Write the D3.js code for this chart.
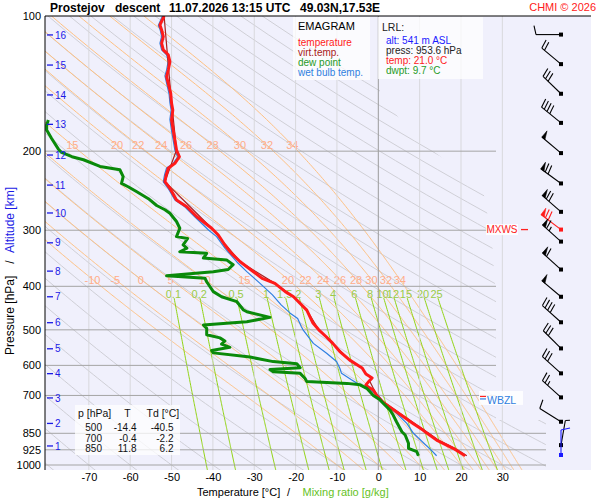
<!DOCTYPE html>
<html lang="en">
<head>
<meta charset="UTF-8">
<title>Emagram Prostejov</title>
<script src="https://d3js.org/d3.v7.min.js"></script>
<style>
  body { margin: 0; background: #fff; }
  svg text { font-family: "Liberation Sans", Arial, sans-serif; }
</style>
</head>
<body>
<svg id="chart" width="600" height="500"></svg>
<script>
// ---- sounding data ----
const tempP = [100, 104.7, 107.4, 111.2, 115, 119, 122, 126.4, 131.9, 136.5, 141.2, 148.7, 156.5, 162, 170.4, 179.5, 188.9, 198.8, 205.8, 212.9, 218.4, 226.1, 233.9, 241.9, 256.9, 265.9, 279.9, 297, 307.4, 323.6, 337.8, 352.6, 371.1, 384, 394, 411, 422, 452, 483, 500, 518, 536, 559, 584, 604, 608, 627, 640, 650, 663, 670, 681, 700, 726, 767, 808, 836, 850, 880, 918, 953.6];
const tempT = [-51.8, -52.8, -52.4, -52.0, -52.4, -52.0, -50.8, -50.4, -50.8, -51.2, -50.8, -50.2, -50.0, -49.7, -50.0, -49.6, -49.2, -48.8, -48.1, -49.2, -50.8, -51.3, -51.6, -50.4, -48.8, -46.3, -43.9, -40.3, -38.7, -37.1, -35.5, -33.4, -30.2, -28.1, -25.0, -22.5, -20.5, -17.3, -15.8, -14.4, -12.6, -11.0, -9.3, -6.9, -4.4, -3.9, -3.0, -1.5, -2.2, -3.0, -2.5, -1.2, -0.4, 1.2, 4.9, 8.4, 10.8, 11.8, 14.1, 18.1, 21.0];

const virtP = [100, 148.7, 198.8, 233.9, 297, 352.6, 394, 422, 452, 500, 536, 584, 604, 627, 640, 650, 681, 700, 726, 767, 808, 850, 880, 918, 953.6];
const virtT = [-51.8, -50.2, -48.8, -51.6, -40.3, -33.4, -25.0, -20.5, -17.3, -14.4, -11.0, -6.9, -4.3, -2.9, -1.4, -2.1, -1.0, -0.2, 1.5, 5.2, 8.8, 12.2, 14.5, 18.5, 21.4];

const dewP = [170.4, 174.9, 179.5, 187.4, 197.7, 201.3, 205.8, 209, 216.3, 220, 228, 235.9, 240, 246.3, 255.2, 264.3, 270.1, 275, 286.9, 297, 310, 313, 323.5, 329, 335, 337.8, 346, 349.3, 358, 367, 371, 379, 383.9, 390.7, 400.8, 411, 421.9, 432.8, 451.7, 455.6, 469, 479.6, 483.6, 487.7, 496.2, 512.6, 521, 529.5, 538, 546.9, 555.6, 562.7, 575, 588.5, 595, 607, 613, 620, 625, 642, 652, 658, 663, 674.9, 700, 716, 735, 754, 774, 801, 843, 857.5, 894.6, 918, 934, 953.6];
const dewT = [-79.8, -80.2, -80.2, -79.0, -77.4, -76.6, -74.1, -71.3, -67.3, -62.5, -61.7, -62.1, -60.5, -58.4, -55.6, -53.6, -51.6, -50.4, -48.8, -48.0, -48.8, -46.1, -47.2, -46.3, -48.0, -41.5, -42.3, -36.7, -35.1, -36.3, -39.9, -51.2, -41.9, -41.5, -40.7, -39.9, -37.9, -34.2, -32.6, -31.8, -26.2, -31.8, -36.7, -42.3, -41.5, -41.5, -38.3, -37.1, -37.9, -35.9, -40.3, -39.9, -31.0, -25.4, -19.7, -18.9, -26.2, -25.4, -18.9, -17.7, -17.3, -7.6, -4.4, -2.8, -1.2, 0.4, 1.6, 2.8, 3.6, 4.4, 5.7, 6.5, 7.3, 7.3, 9.3, 9.7];

const wetP = [100, 105, 107, 111, 115, 119, 122, 126, 132, 136, 141, 149, 156, 162, 170, 180, 189, 199, 206, 213, 218, 226, 234, 242, 257, 266, 280, 300, 310, 329, 353, 371, 394, 418, 440, 459, 472, 492, 500, 536, 564, 588, 609, 625, 646, 669, 681, 700, 723, 767, 808, 850, 929, 953.6];
const wetT = [-52.2, -53.2, -52.8, -52.4, -52.8, -52.4, -51.2, -50.8, -51.2, -51.6, -51.2, -50.6, -50.4, -50.1, -50.4, -50.0, -49.6, -49.2, -48.5, -49.6, -51.2, -51.7, -52.0, -50.8, -49.2, -46.8, -44.4, -41.0, -39.1, -37.1, -34.2, -31.8, -28.6, -25.6, -23.5, -21.3, -19.5, -18.6, -18.2, -15.7, -12.5, -10.1, -9.3, -8.9, -6.5, -3.8, -2.0, 0.0, 1.2, 4.4, 6.9, 8.5, 12.9, 14.1];

const windP   = [110, 128, 149, 173, 202, 236, 273, 299, 318, 367, 422, 481, 550, 625, 707, 801, 903, 950];
const windDir = [270, 310, 314, 309, 310, 306, 311, 307, 312, 312, 310, 312, 315, 312, 312, 302, 10, 0];
const windSpd = [10, 20, 30, 40, 50, 70, 70, 70, 65, 60, 50, 40, 30, 30, 25, 10, 5, 10];
const maxWindP = 299;

const pressTicks = [100, 200, 300, 400, 500, 600, 700, 850, 925, 1000];
const tempTicks = [-70, -60, -50, -40, -30, -20, -10, 0, 10, 20, 30];
const altKm = [1, 2, 3, 4, 5, 6, 7, 8, 9, 10, 11, 12, 13, 14, 15, 16];
const altP  = [907, 808, 709, 626, 551, 482, 422, 370, 320, 274.6, 238, 204, 174.3, 149.9, 128.6, 110.2];

const thetaWLow  = [-10, -5, 0, 5, 10, 15, 20, 22, 24, 26, 28, 30, 32, 34];
const thetaWHigh = [15, 20, 22, 24, 26, 28, 30, 32, 34];
const mixRatios  = [0.1, 0.2, 0.5, 1, 1.5, 2, 3, 4, 6, 8, 10, 12, 15, 20, 25];

const tableP  = ['500', '700', '850'];
const tableT  = ['-14.4', '-0.4', '11.8'];
const tableTd = ['-40.5', '-2.2', '6.2'];

const legendNames  = ['temperature', 'virt.temp.', 'dew point', 'wet bulb temp.'];
const legendColors = ['#ff1a1a', '#a82020', '#1f9a1f', '#2f7fe0'];
const lrlText   = ['alt: 541 m ASL', 'press: 953.6 hPa', 'temp: 21.0 \u00B0C', 'dwpt: 9.7 \u00B0C'];
const lrlColors = ['#1a1aff', '#222', '#ff1a1a', '#1f9a1f'];
const wbzlP = 700;

// ---- layout ----
const svg = d3.select('#chart');
const plotL = 45, plotR = 546, plotT = 16, plotB = 470, bgR = 591;
const x = d3.scaleLinear().domain([-80, 40]).range([47.5, 543.7]);
const y = d3.scaleLog().domain([100, 1000]).range([16, 465]);

svg.append('rect').attr('x', plotL).attr('y', plotT)
  .attr('width', bgR - plotL).attr('height', plotB - plotT).attr('fill', '#f0f0fc');

const defs = svg.append('defs');
defs.append('clipPath').attr('id', 'plotClip').append('rect')
  .attr('x', plotL).attr('y', plotT).attr('width', plotR - plotL).attr('height', plotB - plotT);
defs.append('clipPath').attr('id', 'dryClip').append('polygon')
  .attr('points', [[45,16],[380,16],[380,95],[413,135],[483,190],[492,240],[496,300],[496,420],[546,420],[546,470],[45,470]].join(' '));

const line = d3.line().x(d => x(d[1])).y(d => y(d[0]));

// dry adiabats
const dryG = svg.append('g').attr('clip-path', 'url(#dryClip)');
d3.range(-80, 201, 10).forEach(th => {
  const pts = d3.range(1040, 99, -10).map(p => [p, (th + 273.15) * Math.pow(p / 1000, 0.2857) - 273.15]);
  dryG.append('path').attr('d', line(pts)).attr('fill', 'none').attr('stroke', '#cfcfd6').attr('stroke-width', 1);
});

// pseudo-adiabats
function pseudoAdiabat(tw) {
  const es = t => 6.112 * Math.exp(17.67 * t / (t + 243.5));
  const rate = (T, p) => {
    const e = es(T - 273.15), rs = 0.622 * e / (p - e);
    return (287.04 * T + 2.501e6 * rs) / (p * (1005.7 + 2.501e6 * 2.501e6 * rs * 0.622 / (287.04 * T * T)));
  };
  let T = tw + 273.15;
  const down = [];
  for (let p = 1000; p < 1040; p += 2) { const k1 = rate(T, p); T += 2 * rate(T + k1, p + 1); down.push([p + 2, T]); }
  T = tw + 273.15;
  const up = [[1000, T]];
  for (let p = 1000; p > 100; p -= 2) { const k1 = rate(T, p); T -= 2 * rate(T - k1, p - 1); up.push([p - 2, T]); }
  return down.reverse().concat(up).map(d => [d[0], d[1] - 273.15]);
}
const moistG = svg.append('g').attr('clip-path', 'url(#plotClip)');
const moistCurves = {};
thetaWLow.forEach(tw => {
  moistCurves[tw] = pseudoAdiabat(tw);
  moistG.append('path').attr('d', line(moistCurves[tw])).attr('fill', 'none')
    .attr('stroke', '#ffc182').attr('stroke-width', 1);
});
function tAt(curve, p) {
  const i = curve.findIndex(d => d[0] <= p);
  return curve[Math.max(i, 0)][1];
}
const moistLab = svg.append('g').attr('font-size', 11).attr('fill', '#ffad8a').attr('text-anchor', 'middle');
thetaWLow.forEach(tw => moistLab.append('text').attr('x', x(tAt(moistCurves[tw], 387))).attr('y', y(387) + 4).text(String(tw)));
thetaWHigh.forEach(tw => moistLab.append('text').attr('x', x(tAt(moistCurves[tw], 194))).attr('y', y(194) + 4).text(String(tw)));

// mixing ratio lines
const dewOf = (r, p) => { const e = r * p / (622 + r); const l = Math.log(e / 6.112); return 243.5 * l / (17.67 - l); };
const mixG = svg.append('g').attr('clip-path', 'url(#plotClip)');
mixRatios.forEach(r => {
  const pts = d3.range(425, 1041, 5).map(p => [p, dewOf(r, p)]);
  mixG.append('path').attr('d', line(pts)).attr('fill', 'none').attr('stroke', '#92d414').attr('stroke-width', 1);
});
svg.append('g').attr('font-size', 11).attr('fill', '#9acb48').attr('text-anchor', 'middle')
  .selectAll('text').data(mixRatios).join('text')
  .attr('x', r => x(dewOf(r, 416))).attr('y', y(416) + 4).text(r => r);

// isotherms and isobars
svg.append('g').selectAll('line').data(tempTicks).join('line')
  .attr('x1', d => x(d)).attr('x2', d => x(d)).attr('y1', plotT).attr('y2', plotB)
  .attr('stroke', d => d === 0 ? '#9a9a9a' : '#d8d8dc').attr('stroke-width', 1);
svg.append('g').selectAll('line').data(pressTicks.filter(p => p > 100)).join('line')
  .attr('x1', plotL).attr('x2', p => p > 700 ? plotR : 496).attr('y1', p => y(p)).attr('y2', p => y(p))
  .attr('stroke', '#a4a4a4').attr('stroke-width', 1);

// profiles
const prof = svg.append('g').attr('clip-path', 'url(#plotClip)').attr('fill', 'none').attr('stroke-linejoin', 'round');
prof.append('path').attr('d', line(d3.zip(wetP, wetT))).attr('stroke', '#2f7fe0').attr('stroke-width', 1.2);
prof.append('path').attr('d', line(d3.zip(virtP, virtT))).attr('stroke', '#a82020').attr('stroke-width', 1.2);
prof.append('path').attr('d', line(d3.zip(tempP, tempT))).attr('stroke', '#ff1a1a').attr('stroke-width', 3);
prof.append('path').attr('d', line(d3.zip(dewP, dewT))).attr('stroke', '#0a8a0a').attr('stroke-width', 3);

// axes
svg.append('line').attr('x1', plotL).attr('x2', plotL).attr('y1', plotT).attr('y2', plotB).attr('stroke', '#000');
svg.append('line').attr('x1', plotL).attr('x2', bgR).attr('y1', plotT).attr('y2', plotT).attr('stroke', '#000');

const yAxis = svg.append('g').attr('transform', `translate(${plotL - 4},0)`)
  .call(d3.axisLeft(y).tickValues(pressTicks).tickFormat(d => String(d)).tickSize(0).tickPadding(0));
yAxis.select('.domain').remove();
yAxis.selectAll('text').attr('font-size', 11).attr('fill', '#000').attr('font-family', '"Liberation Sans", Arial, sans-serif');

const xAxis = svg.append('g').attr('transform', `translate(0,${plotB})`)
  .call(d3.axisBottom(x).tickValues(tempTicks).tickFormat(d => String(d)).tickSize(0).tickPadding(3));
xAxis.select('.domain').remove();
xAxis.selectAll('text').attr('font-size', 11).attr('fill', '#000').attr('font-family', '"Liberation Sans", Arial, sans-serif');

// altitude ticks
const altG = svg.append('g').attr('fill', '#1a1ae6').attr('font-size', 10);
altKm.forEach((km, i) => {
  const yy = y(altP[i]);
  altG.append('line').attr('x1', 47).attr('x2', 53).attr('y1', yy).attr('y2', yy).attr('stroke', '#1a1ae6').attr('stroke-width', 1.3);
  altG.append('text').attr('x', 55).attr('y', yy + 3.6).text(km);
});

// axis titles
svg.append('text').attr('x', 197).attr('y', 496).attr('font-size', 11).text('Temperature [\u00B0C]');
svg.append('text').attr('x', 287).attr('y', 496).attr('font-size', 11).text('/');
svg.append('text').attr('x', 302.5).attr('y', 496).attr('font-size', 11).attr('fill', '#66c21e').text('Mixing ratio [g/kg]');
svg.append('text').attr('transform', 'translate(13.5,355) rotate(-90)').attr('font-size', 12).text('Pressure [hPa]');
svg.append('text').attr('transform', 'translate(13.5,262) rotate(-90)').attr('font-size', 12).attr('text-anchor', 'middle').text('/');
svg.append('text').attr('transform', 'translate(13.5,253) rotate(-90)').attr('font-size', 12).attr('fill', '#1a1ae6').text('Altitude [km]');

// title
const title = svg.append('g').attr('font-size', 12).attr('font-weight', 'bold');
title.append('text').attr('x', 50).attr('y', 12).text('Prostejov');
title.append('text').attr('x', 115).attr('y', 12).text('descent');
title.append('text').attr('x', 169).attr('y', 12).text('11.07.2026 13:15 UTC');
title.append('text').attr('x', 300).attr('y', 12).text('49.03N,17.53E');
svg.append('text').attr('x', 596).attr('y', 11).attr('text-anchor', 'end').attr('font-size', 11)
  .attr('fill', '#ff2020').text('CHMI \u00A9 2026');

// legend box
svg.append('rect').attr('x', 293).attr('y', 17).attr('width', 77).attr('height', 63).attr('fill', '#fff').attr('opacity', 0.75);
svg.append('text').attr('x', 298).attr('y', 29.5).attr('font-size', 11).text('EMAGRAM');
svg.append('g').attr('font-size', 10).selectAll('text').data(legendNames).join('text')
  .attr('x', 298).attr('y', (d, i) => 46 + i * 10).attr('fill', (d, i) => legendColors[i]).text(d => d);

// LRL box
svg.append('rect').attr('x', 378).attr('y', 17).attr('width', 105).attr('height', 62).attr('fill', '#fff').attr('opacity', 0.75);
svg.append('text').attr('x', 382).attr('y', 30.5).attr('font-size', 10.5).attr('fill', '#222').text('LRL:');
svg.append('g').attr('font-size', 10).selectAll('text').data(lrlText).join('text')
  .attr('x', 386).attr('y', (d, i) => 44 + i * 10).attr('fill', (d, i) => lrlColors[i]).text(d => d);

// table
svg.append('rect').attr('x', 75).attr('y', 405).attr('width', 105).attr('height', 50).attr('fill', '#fff').attr('opacity', 0.75);
const tab = svg.append('g').attr('font-size', 10).attr('fill', '#111');
tab.append('text').attr('x', 78).attr('y', 417).attr('font-size', 10.5).text('p [hPa]');
tab.append('text').attr('x', 127.5).attr('y', 417).attr('font-size', 10.5).attr('text-anchor', 'middle').text('T');
tab.append('text').attr('x', 146.5).attr('y', 417).attr('font-size', 10.5).text('Td [\u00B0C]');
tableP.forEach((p, i) => {
  const yy = 431 + i * 10.5;
  tab.append('text').attr('x', 102).attr('y', yy).attr('text-anchor', 'end').text(p);
  tab.append('text').attr('x', 136.5).attr('y', yy).attr('text-anchor', 'end').text(tableT[i]);
  tab.append('text').attr('x', 173.5).attr('y', yy).attr('text-anchor', 'end').text(tableTd[i]);
});

// wind barbs
const barbX = 561;
function drawBarb(g, x0, y0, dir, spd, color) {
  const L = 25, a = dir * Math.PI / 180;
  const ux = Math.sin(a), uy = -Math.cos(a);
  const px = -uy, py = ux;
  const tx = x0 + L * ux, ty = y0 + L * uy;
  g.append('line').attr('x1', x0).attr('y1', y0).attr('x2', tx).attr('y2', ty).attr('stroke', color).attr('stroke-width', 1.1);
  let s = Math.round(spd / 5) * 5, pos = 0;
  while (s >= 50) {
    const ax = tx - pos * ux, ay = ty - pos * uy;
    const bx = tx - (pos + 4) * ux, by = ty - (pos + 4) * uy;
    g.append('polygon').attr('points', `${ax},${ay} ${ax + 8 * px},${ay + 8 * py} ${bx},${by}`).attr('fill', color).attr('stroke', color).attr('stroke-width', 0.6);
    pos += 5.5; s -= 50;
  }
  while (s >= 10) {
    const ax = tx - pos * ux, ay = ty - pos * uy;
    g.append('line').attr('x1', ax).attr('y1', ay).attr('x2', ax + 9 * px + 2 * ux).attr('y2', ay + 9 * py + 2 * uy).attr('stroke', color).attr('stroke-width', 1.1);
    pos += 3.5; s -= 10;
  }
  if (s >= 5) {
    const ax = tx - pos * ux, ay = ty - pos * uy;
    g.append('line').attr('x1', ax).attr('y1', ay).attr('x2', ax + 4.5 * px + 1 * ux).attr('y2', ay + 4.5 * py + 1 * uy).attr('stroke', color).attr('stroke-width', 1.1);
  }
}
const barbG = svg.append('g');
windP.forEach((p, i) => {
  const surface = i === windP.length - 1;
  const color = p === maxWindP ? '#ff1a1a' : (surface ? '#1a1aff' : '#000');
  drawBarb(barbG, barbX, y(p), windDir[i], windSpd[i], color);
  barbG.append('rect').attr('x', barbX - 2).attr('y', y(p) - 2).attr('width', 4).attr('height', 4).attr('fill', color);
});

// MXWS marker
svg.append('rect').attr('x', 486).attr('y', y(maxWindP) - 5.5).attr('width', 32).attr('height', 11).attr('fill', '#fff').attr('opacity', 0.85);
svg.append('text').attr('x', 517.5).attr('y', y(maxWindP) + 3.8).attr('text-anchor', 'end').attr('font-size', 10).attr('fill', '#ff2020').text('MXWS');
svg.append('line').attr('x1', 521).attr('x2', 528).attr('y1', y(maxWindP)).attr('y2', y(maxWindP)).attr('stroke', '#ff2020').attr('stroke-width', 1.3);

// WBZL marker
const wy = y(wbzlP);
svg.append('rect').attr('x', 479).attr('y', wy - 4.5).attr('width', 44).attr('height', 14).attr('fill', '#fff').attr('opacity', 0.85);
svg.append('line').attr('x1', 480).attr('x2', 486).attr('y1', wy + 1).attr('y2', wy + 1).attr('stroke', '#ff2020').attr('stroke-width', 1.2);
svg.append('line').attr('x1', 480).attr('x2', 486).attr('y1', wy + 3.5).attr('y2', wy + 3.5).attr('stroke', '#2f7fe0').attr('stroke-width', 1.2);
svg.append('text').attr('x', 487).attr('y', wy + 8.5).attr('font-size', 10.5).attr('fill', '#2f7fe0').text('WBZL');
</script>
</body>
</html>
